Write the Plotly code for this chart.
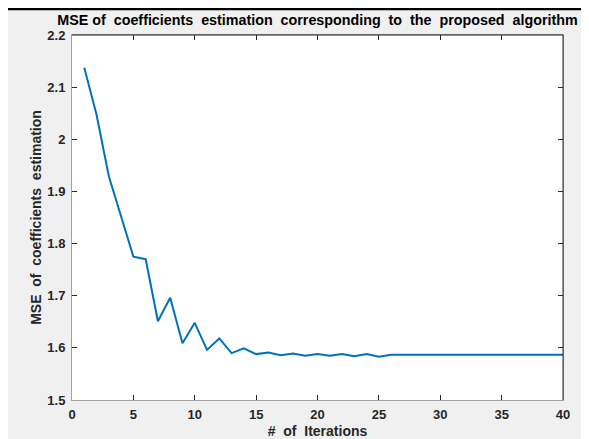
import plotly.graph_objects as go

iterations = list(range(1, 41))
mse = [2.137, 2.047, 1.929, 1.854, 1.775, 1.770, 1.651, 1.696, 1.609, 1.648,
       1.596, 1.618, 1.590, 1.599, 1.588, 1.591, 1.586, 1.589, 1.585, 1.588,
       1.585, 1.588, 1.584, 1.588, 1.583] + [1.587] * 15
x_ticks = [0, 5, 10, 15, 20, 25, 30, 35, 40]
y_ticks = [1.5, 1.6, 1.7, 1.8, 1.9, 2.0, 2.1, 2.2]
y_tick_text = ["1.5", "1.6", "1.7", "1.8", "1.9", "2", "2.1", "2.2"]

# page body adds an 8px offset, so the figure is drawn 8px in
W, H = 581, 431
L, R, T, B = 64, 26, 27, 39
pw, ph = W - L - R, H - T - B

font_fam = "Liberation Sans, Arial, sans-serif"
tick_col = "#262626"

fig = go.Figure()
fig.add_trace(go.Scatter(x=iterations, y=mse, mode="lines",
                         line=dict(color="#0072BD", width=2), showlegend=False))

fig.update_layout(
    width=W, height=H,
    margin=dict(l=L, r=R, t=T, b=B),
    paper_bgcolor="#f0f0f0", plot_bgcolor="#ffffff",
    title=dict(text="<b>MSE of  coefficients  estimation  corresponding  to  the  proposed  algorithm</b>",
               x=(L + pw / 2) / W, xanchor="center", y=1 - 12 / H, yanchor="middle",
               font=dict(family=font_fam, size=14.3, color="#000000")),
    xaxis=dict(range=[0, 40], tickvals=x_ticks, ticks="inside", ticklen=5,
               tickcolor=tick_col, showline=True, linecolor="#a0a0a0", linewidth=1,
               mirror="ticks", showgrid=False, zeroline=False, automargin=False,
               ticklabelstandoff=2,
               tickfont=dict(family=font_fam, size=13, color=tick_col, weight="bold"),
               title=dict(text="<b>#  of  Iterations</b>", standoff=7,
                          font=dict(family=font_fam, size=14, color=tick_col))),
    yaxis=dict(range=[1.5, 2.2], tickvals=y_ticks, ticktext=y_tick_text,
               ticks="inside", ticklen=5, tickcolor=tick_col,
               showline=True, linecolor="#a0a0a0", linewidth=1,
               mirror="ticks", showgrid=False, zeroline=False, automargin=False,
               ticklabelstandoff=3,
               tickfont=dict(family=font_fam, size=13, color=tick_col, weight="bold"),
               title=dict(text="<b>MSE  of  coefficients  estimation</b>", standoff=2,
                          font=dict(family=font_fam, size=14, color=tick_col))),
)

# dark top and right axis edges
fig.add_shape(type="line", xref="paper", yref="paper", x0=0, x1=1, y0=1, y1=1,
              line=dict(color="#262626", width=1))
fig.add_shape(type="line", xref="paper", yref="paper", x0=1, x1=1, y0=0, y1=1,
              line=dict(color="#262626", width=1))
# black frame line at the top of the picture
fig.add_shape(type="line", xref="paper", yref="paper",
              x0=-L / pw, x1=(W - L) / pw, y0=1 + (T - 1) / ph, y1=1 + (T - 1) / ph,
              line=dict(color="#000000", width=2.5))

fig.write_html("out.html")
